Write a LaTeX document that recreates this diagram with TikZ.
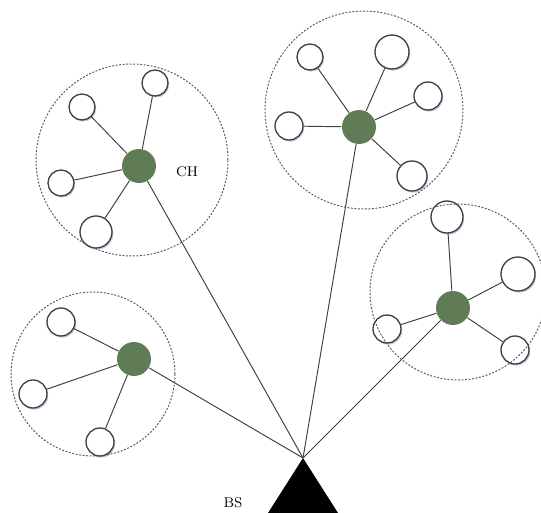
\documentclass[tikz,border=0pt]{standalone}
\usetikzlibrary{shadows}

\definecolor{chgreen}{RGB}{96,124,86}

\begin{document}
\begin{tikzpicture}[x=0.02cm,y=-0.02cm,
    sensor/.style={circle,draw=black!75,line width=0.75pt,fill=white,inner sep=0pt,
        drop shadow={shadow xshift=0.7pt,shadow yshift=-0.9pt,fill=blue!35!gray,opacity=0.35}},
    head/.style={circle,fill=chgreen,inner sep=0pt,minimum size=0.68cm},
    ring/.style={draw=black!65,dash pattern=on 1.1pt off 0.9pt,line width=0.55pt},
    link/.style={draw=black!75,line width=0.55pt}]

\useasboundingbox (0,0) rectangle (541,513);

% top left
\node[head] (ch1) at (139,166) {};
\node[sensor,minimum size=0.52cm] (s11) at (82,107) {};
\node[sensor,minimum size=0.52cm] (s12) at (155,83) {};
\node[sensor,minimum size=0.52cm] (s13) at (61,183) {};
\node[sensor,minimum size=0.64cm] (s14) at (96,232) {};
\node (chlabel) at (187,172) {\footnotesize CH};

% top middle
\node[head] (ch2) at (359,127) {};
\node[sensor,minimum size=0.52cm] (s21) at (310,57) {};
\node[sensor,minimum size=0.68cm] (s22) at (392,52) {};
\node[sensor,minimum size=0.56cm] (s23) at (428,96) {};
\node[sensor,minimum size=0.56cm] (s24) at (289,126) {};
\node[sensor,minimum size=0.6cm] (s25) at (412,176) {};

% right
\node[head] (ch3) at (453,308) {};
\node[sensor,minimum size=0.64cm] (s31) at (447,217) {};
\node[sensor,minimum size=0.68cm] (s32) at (518,274) {};
\node[sensor,minimum size=0.56cm] (s33) at (387,329) {};
\node[sensor,minimum size=0.56cm] (s34) at (515,350) {};

% bottom left
\node[head] (ch4) at (134,359) {};
\node[sensor,minimum size=0.56cm] (s41) at (61,322) {};
\node[sensor,minimum size=0.56cm] (s42) at (33,394) {};
\node[sensor,minimum size=0.56cm] (s43) at (100,442) {};

% base station
\coordinate (bs) at (303,458);
\fill[black] (bs) -- (338,513) -- (268,513) -- cycle;
\node (bslabel) at (233,503) {\footnotesize BS};

\draw[link] (s11) -- (ch1);
\draw[link] (s12) -- (ch1);
\draw[link] (s13) -- (ch1);
\draw[link] (s14) -- (ch1);

\draw[link] (s21) -- (ch2);
\draw[link] (s22) -- (ch2);
\draw[link] (s23) -- (ch2);
\draw[link] (s24) -- (ch2);
\draw[link] (s25) -- (ch2);

\draw[link] (s31) -- (ch3);
\draw[link] (s32) -- (ch3);
\draw[link] (s33) -- (ch3);
\draw[link] (s34) -- (ch3);

\draw[link] (s41) -- (ch4);
\draw[link] (s42) -- (ch4);
\draw[link] (s43) -- (ch4);

\draw[link] (ch1) -- (bs);
\draw[link] (ch2) -- (bs);
\draw[link] (ch3) -- (bs);
\draw[link] (ch4) -- (bs);

\draw[ring] (132,160) circle (1.92cm);
\draw[ring] (364,110) circle (1.98cm);
\draw[ring] (458,292) circle (1.76cm);
\draw[ring] (93,374) circle (1.64cm);

\end{tikzpicture}
\end{document}
